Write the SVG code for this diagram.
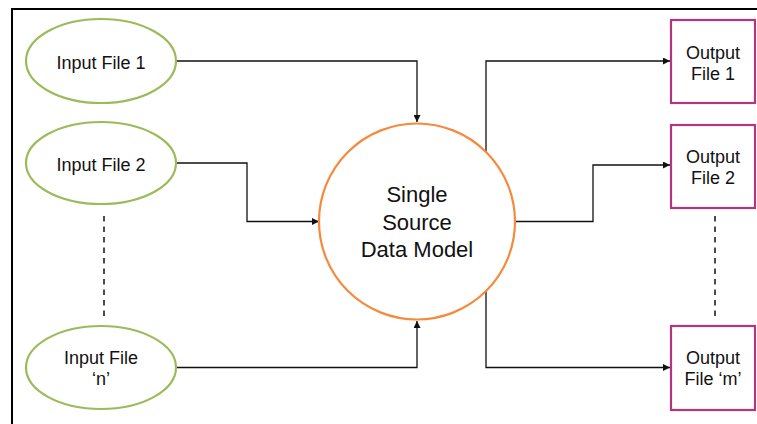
<svg xmlns="http://www.w3.org/2000/svg" width="757" height="424" viewBox="0 0 757 424">
<style>
.in{fill:#fff;stroke:#9BBB59;stroke-width:2.2}
.out{fill:#fff;stroke:#B2357F;stroke-width:2.2}
.core{fill:#fff;stroke:#F58A3C;stroke-width:2.2}
.t{font-family:"Liberation Sans",Arial,sans-serif;font-size:18px;fill:#111;text-anchor:middle}
.tb{font-family:"Liberation Sans",Arial,sans-serif;font-size:22px;fill:#111;text-anchor:middle}
.c{fill:none;stroke:#111;stroke-width:1.3}
.d{fill:none;stroke:#111;stroke-width:1.5;stroke-dasharray:5.5 5}
</style>
<defs>
<marker id="ah" viewBox="0 0 10 10" refX="10" refY="5" markerWidth="7" markerHeight="7" markerUnits="userSpaceOnUse" orient="auto">
<path d="M0,0 L10,5 L0,10 z" fill="#111"/>
</marker>
</defs>
<rect x="0" y="0" width="757" height="424" fill="#fff"/>
<path d="M12,430 V9 H760" fill="none" stroke="#000" stroke-width="2"/>
<g id="connectors">
<path class="c" d="M176,61 H417 V122" marker-end="url(#ah)"/>
<path class="c" d="M176,163 H247 V221.5 H319" marker-end="url(#ah)"/>
<path class="c" d="M176,367.5 H417 V321" marker-end="url(#ah)"/>
<path class="c" d="M486,152 V61 H670" marker-end="url(#ah)"/>
<path class="c" d="M516,221.5 H593 V165 H670" marker-end="url(#ah)"/>
<path class="c" d="M486,291 V367.5 H670" marker-end="url(#ah)"/>
<path class="d" d="M104,216 V318"/>
<path class="d" d="M715,216 V318"/>
</g>
<g id="input1">
<ellipse class="in" cx="101" cy="61" rx="75" ry="42"/>
<text class="t" x="101" y="68.5">Input File 1</text>
</g>
<g id="input2">
<ellipse class="in" cx="101" cy="163" rx="75" ry="41"/>
<text class="t" x="101" y="170.5">Input File 2</text>
</g>
<g id="inputn">
<ellipse class="in" cx="101" cy="367.5" rx="75" ry="41.5"/>
<text class="t" x="101" y="363.5">Input File</text>
<text class="t" x="101" y="385">‘n’</text>
</g>
<g id="model">
<circle class="core" cx="417" cy="221.5" r="98"/>
<text class="tb" x="417" y="202">Single</text>
<text class="tb" x="417" y="229.5">Source</text>
<text class="tb" x="417" y="257">Data Model</text>
</g>
<g id="output1">
<rect class="out" x="671" y="20" width="84" height="83"/>
<text class="t" x="713" y="59">Output</text>
<text class="t" x="713" y="80">File 1</text>
</g>
<g id="output2">
<rect class="out" x="671" y="125" width="84" height="83"/>
<text class="t" x="713" y="163">Output</text>
<text class="t" x="713" y="184">File 2</text>
</g>
<g id="outputm">
<rect class="out" x="671" y="326" width="84" height="84"/>
<text class="t" x="713" y="364">Output</text>
<text class="t" x="713" y="385">File ‘m’</text>
</g>
</svg>
